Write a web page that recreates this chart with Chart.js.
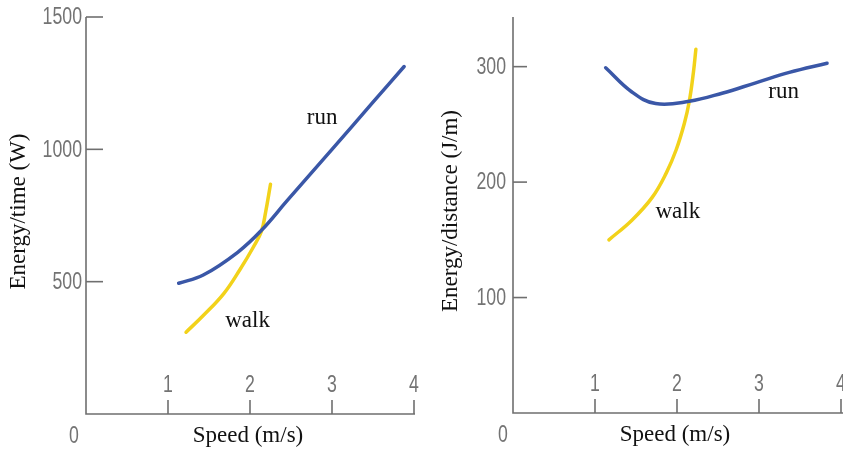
<!DOCTYPE html>
<html>
<head>
<meta charset="utf-8">
<script src="https://cdn.jsdelivr.net/npm/chart.js@4.4.1/dist/chart.umd.min.js"></script>
<style>
  body { margin: 0; background: #fff; }
  .panel { position: absolute; top: 0; height: 449px; }
</style>
</head>
<body>
<div class="panel" style="left:0;width:421px"><canvas id="power" width="421" height="449"></canvas></div>
<div class="panel" style="left:421px;width:422px"><canvas id="cost" width="422" height="449"></canvas></div>
<script>
// values
const powerRunX  = [1.13, 1.43, 1.85, 2.14, 2.45, 3.0, 3.5, 3.88];
const powerRunY  = [494, 525, 611, 694, 805, 1000, 1178, 1313];
const powerWalkX = [1.22, 1.43, 1.68, 1.88, 2.04, 2.14, 2.19, 2.25];
const powerWalkY = [309, 372, 455, 547, 630, 691, 762, 868];

const costRunX  = [1.13, 1.45, 1.74, 2.15, 2.55, 2.96, 3.37, 3.83];
const costRunY  = [299, 278, 268, 270, 277, 286, 295, 303];
const costWalkX = [1.17, 1.45, 1.70, 1.87, 1.99, 2.09, 2.15, 2.20, 2.23];
const costWalkY = [150, 167, 187, 208, 228, 251, 270, 295, 315];

const speedTicks = [1, 2, 3, 4];
const powerTicks = [500, 1000, 1500];
const costTicks  = [100, 200, 300];

const BLUE = '#3a57a7';
const YELLOW = '#f2d21a';
const AXIS = '#6f6f6f';
const TICKFONT = '23px "Liberation Sans", Arial, sans-serif';
const SERIF = '23px "Liberation Serif", "Times New Roman", serif';

function pts(xs, ys) {
  return xs.map((x, i) => ({ x: x, y: ys[i] }));
}

function curve(label, xs, ys, color) {
  return {
    label: label,
    data: pts(xs, ys),
    showLine: true,
    borderColor: color,
    borderWidth: 3.5,
    pointRadius: 0,
    tension: 0.4,
    borderCapStyle: 'round'
  };
}

// condensed grey numerals like the printed figure
function tickText(ctx, text, x, y, align) {
  ctx.save();
  ctx.translate(x, y);
  ctx.scale(0.77, 1);
  ctx.textAlign = align;
  ctx.fillText(text, 0, 0);
  ctx.restore();
}

// axes, ticks and text drawn with the chart's own scales
const framePlugin = {
  id: 'frame',
  afterDraw(chart, args, o) {
    const ctx = chart.ctx;
    const xs = chart.scales.x, ys = chart.scales.y;
    const x0 = xs.getPixelForValue(0), y0 = ys.getPixelForValue(0);
    const top = chart.chartArea.top;
    ctx.save();
    ctx.strokeStyle = AXIS;
    ctx.lineWidth = 1.6;
    ctx.beginPath();
    ctx.moveTo(x0, top);
    ctx.lineTo(x0, y0);
    ctx.lineTo(o.axisEnd, y0);
    ctx.stroke();

    ctx.font = TICKFONT;
    ctx.fillStyle = '#737373';
    ctx.textBaseline = 'middle';
    o.yTicks.forEach(v => {
      const py = ys.getPixelForValue(v);
      ctx.beginPath();
      ctx.moveTo(x0, py);
      ctx.lineTo(x0 + o.yTickLen, py);
      ctx.stroke();
      tickText(ctx, String(v), x0 - o.yLabelGap, py + 1, 'right');
    });
    speedTicks.forEach(v => {
      const px = xs.getPixelForValue(v);
      ctx.beginPath();
      ctx.moveTo(px, y0);
      ctx.lineTo(px, y0 - 14);
      ctx.stroke();
      tickText(ctx, String(v), px, y0 - 28, 'center');
    });
    tickText(ctx, '0', x0 - o.zeroDx, y0 + 23, 'center');

    ctx.font = SERIF;
    ctx.fillStyle = '#111';
    ctx.textAlign = 'center';
    ctx.fillText('Speed (m/s)', xs.getPixelForValue(2) - 2, y0 + 22);
    o.notes.forEach(n => {
      ctx.fillText(n.text, xs.getPixelForValue(n.x), ys.getPixelForValue(n.y));
    });
    ctx.translate(x0 - o.titleDx, (top + y0) / 2 - 4);
    ctx.rotate(-Math.PI / 2);
    ctx.fillText(o.title, 0, 0);
    ctx.restore();
  }
};

function makeChart(id, datasets, yMax, padding, opts) {
  return new Chart(document.getElementById(id), {
    type: 'scatter',
    data: { datasets: datasets },
    plugins: [framePlugin],
    options: {
      responsive: false,
      animation: false,
      layout: { padding: padding },
      scales: {
        x: { type: 'linear', min: 0, max: 4, display: false },
        y: { type: 'linear', min: 0, max: yMax, display: false }
      },
      plugins: {
        legend: { display: false },
        tooltip: { enabled: false },
        frame: opts
      }
    }
  });
}

makeChart('power', [
  curve('run', powerRunX, powerRunY, BLUE),
  curve('walk', powerWalkX, powerWalkY, YELLOW)
], 1500, { left: 86, top: 17, right: 7, bottom: 35 }, {
  axisEnd: 415,
  yTicks: powerTicks,
  yTickLen: 17,
  yLabelGap: 4,
  zeroDx: 12,
  titleDx: 67,
  title: 'Energy/time (W)',
  notes: [
    { text: 'run', x: 2.88, y: 1117 },
    { text: 'walk', x: 1.97, y: 351 }
  ]
});

makeChart('cost', [
  curve('run', costRunX, costRunY, BLUE),
  curve('walk', costWalkX, costWalkY, YELLOW)
], 343, { left: 92, top: 17, right: 2, bottom: 36 }, {
  axisEnd: 422,
  yTicks: costTicks,
  yTickLen: 14,
  yLabelGap: 7,
  zeroDx: 10,
  titleDx: 62,
  title: 'Energy/distance (J/m)',
  notes: [
    { text: 'run', x: 3.30, y: 278 },
    { text: 'walk', x: 2.01, y: 174 }
  ]
});
</script>
</body>
</html>
